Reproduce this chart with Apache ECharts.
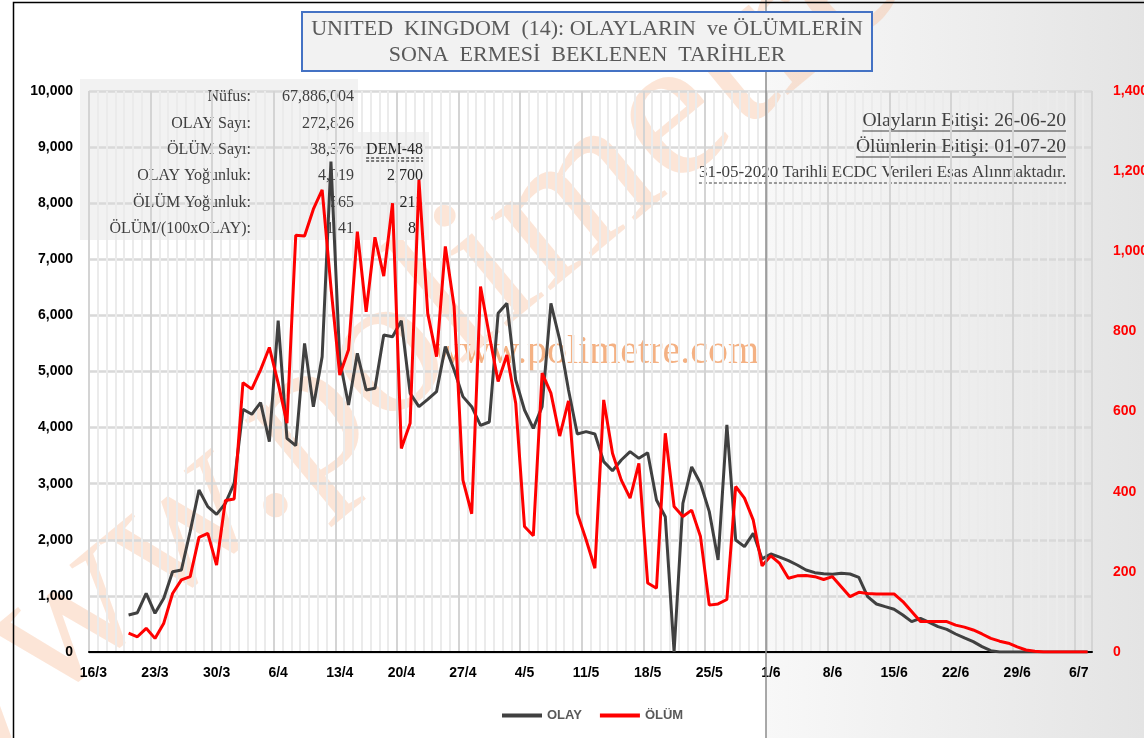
<!DOCTYPE html>
<html>
<head>
  <meta charset="utf-8">
  <title>United Kingdom (14)</title>
  <script src="https://cdn.jsdelivr.net/npm/echarts@6/dist/echarts.min.js"></script>
</head>
<body style="margin:0">
  <div id="main" style="width:1144px;height:738px;"></div>
  <script type="text/javascript">
    // days 16/3 .. 7/7 (one category per day)
    var monthDays = [[3, 16, 31], [4, 1, 30], [5, 1, 31], [6, 1, 30], [7, 1, 7]];
    var days = [];
    monthDays.forEach(function (m) {
      for (var d = m[1]; d <= m[2]; d++) days.push(d + '/' + m[0]);
    });

    // daily cases (left axis)
    var olay = [null, null, null, null,
      660, 701, 1046, 689, 957, 1432, 1462, 2150, 2888, 2591,
      2454, 2650, 3007, 4326, 4237, 4445, 3749, 5906, 3809, 3680,
      5502, 4373, 5265, 8741, 5205, 4403, 5324, 4670, 4700, 5651,
      5621, 5906, 4611, 4373, 4504, 4641, 5443, 5027, 4552, 4373,
      4040, 4100, 6037, 6215, 4849, 4314, 3987, 4373, 6215, 5562,
      4670, 3886, 3928, 3886, 3393, 3232, 3423, 3571, 3452, 3553,
      2710, 2412, 0, 2650, 3300, 3007, 2502, 1640, 4047, 1997,
      1878, 2115, 1660, 1747, 1690, 1628, 1551, 1462, 1414, 1396,
      1385, 1402, 1390, 1331, 986, 856, 808, 761, 660, 541,
      600, 529, 452, 404, 321, 250, 184, 95, 24, 0,
      0, 0, 0, 0, 0, 0, 0, 0, 0, 0];

    // daily deaths (right axis)
    var olum = [null, null, null, null,
      47, 38, 59, 34, 72, 146, 180, 188, 286, 296,
      217, 378, 382, 672, 656, 704, 760, 671, 571, 1040,
      1038, 1105, 1153, 910, 691, 754, 1049, 849, 1035, 938,
      1120, 508, 571, 1178, 845, 737, 1012, 862, 429, 345,
      912, 790, 675, 741, 621, 313, 290, 696, 646, 539,
      627, 346, 280, 209, 629, 496, 429, 384, 471, 172,
      159, 546, 363, 338, 354, 288, 117, 120, 131, 413,
      384, 329, 215, 240, 221, 184, 190, 191, 188, 181,
      188, 163, 138, 149, 146, 145, 145, 145, 126, 101,
      76, 76, 76, 76, 67, 62, 55, 45, 34, 27,
      22, 13, 5, 2, 0, 0, 0, 0, 0, 0];

    var forecastStart = '1/6';

    var titleLines = ['UNITED  KINGDOM  (14): OLAYLARIN  ve ÖLÜMLERİN', 'SONA  ERMESİ  BEKLENEN  TARİHLER'];
    var tableLabels = ['Nüfus:', 'OLAY Sayı:', 'ÖLÜM Sayı:', 'OLAY Yoğunluk:', 'ÖLÜM Yoğunluk:', 'ÖLÜM/(100xOLAY):'];
    var tableValues = ['67,886,004', '272,826', '38,376', '4,019', '565', '1.41'];
    var tableRef = ['', '', 'DEM-48', '2,700', '211', '8'];
    var notes = ['Olayların Bitişi: 26-06-20', 'Ölümlerin Bitişi: 01-07-20', '31-05-2020 Tarihli ECDC Verileri Esas Alınmaktadır.'];

    var fmt = function (v) { return Number(v).toLocaleString('en-US'); };
    var boldLbl = { fontFamily: 'Liberation Sans', fontWeight: 'bold', fontSize: 14 };

    var myChart = echarts.init(document.getElementById('main'));

    myChart.setOption({
      animation: false,
      backgroundColor: '#fff',
      grid: { left: 89, right: 52, top: 91, bottom: 86, containLabel: false, outerBoundsMode: 'none' },
      legend: {
        left: 497, top: 704,
        icon: 'rect', itemWidth: 40, itemHeight: 4, itemGap: 18,
        textStyle: { fontFamily: 'Liberation Sans', fontWeight: 'bold', fontSize: 13, color: '#595959' },
        data: ['OLAY', 'ÖLÜM']
      },
      xAxis: [{
        type: 'category', data: days, boundaryGap: true, z: 2,
        axisLine: { lineStyle: { color: '#000', width: 2 } },
        axisTick: { interval: 6, length: 6, lineStyle: { color: '#000', width: 2 } },
        axisLabel: Object.assign({ interval: 6, color: '#000', margin: 14 }, boldLbl),
        splitLine: { show: true, interval: 6, lineStyle: { color: '#d4d4d4', width: 2 } }
      }, {
        type: 'category', data: days, boundaryGap: true, position: 'top', z: 1,
        axisLine: { show: false }, axisTick: { show: false }, axisLabel: { show: false },
        splitLine: { show: true, interval: 0, lineStyle: { color: '#ebebeb', width: 2 } }
      }],
      yAxis: [{
        type: 'value', min: 0, max: 10000, interval: 1000,
        axisLine: { show: false }, axisTick: { show: false },
        axisLabel: Object.assign({ color: '#000', margin: 16, formatter: fmt }, boldLbl),
        splitLine: { lineStyle: { color: '#d9d9d9', width: 2.5 } }
      }, {
        type: 'value', min: 0, max: 1400, interval: 200, position: 'right',
        axisLine: { show: false }, axisTick: { show: false },
        axisLabel: Object.assign({ color: '#ff0000', margin: 21, formatter: fmt }, boldLbl),
        splitLine: { show: false }
      }],
      series: [{
        name: 'OLAY', type: 'line', data: olay, yAxisIndex: 0,
        symbol: 'none', color: '#404040',
        lineStyle: { color: '#404040', width: 3 }
      }, {
        name: 'ÖLÜM', type: 'line', data: olum, yAxisIndex: 1,
        symbol: 'none', color: '#ff0000',
        lineStyle: { color: '#ff0000', width: 3 }
      }]
    });

    // text measuring for underlines
    var ctx = document.createElement('canvas').getContext('2d');
    function textW(s, font) { ctx.font = font; return ctx.measureText(s).width; }

    var c1 = myChart.convertToPixel({ xAxisIndex: 0 }, forecastStart);
    var c2 = myChart.convertToPixel({ xAxisIndex: 0 }, days[days.indexOf(forecastStart) + 1]);
    var splitX = Math.round(c1 - (c2 - c1) / 2);

    var serif = 'Liberation Serif';
    var g = [];
    // forecast area
    g.push({
      type: 'rect', z: -10, silent: true,
      shape: { x: splitX, y: 0, width: 1144 - splitX, height: 738 },
      style: {
        fill: new echarts.graphic.LinearGradient(0, 0, 1, 0, [
          { offset: 0, color: '#f8f8f8' }, { offset: 1, color: '#e4e4e4' }])
      }
    });
    // big diagonal watermark
    g.push({
      type: 'text', z: -9, silent: true, x: -40, y: 840, rotation: 39.5 * Math.PI / 180,
      style: { x: 0, y: 0, text: 'www.polimetre.com', fill: 'rgba(247,190,155,0.4)',
        font: '205px "Liberation Serif"', textAlign: 'left', textVerticalAlign: 'bottom' }
    });
    g.push({
      type: 'line', z: 5, silent: true,
      shape: { x1: splitX, y1: 0, x2: splitX, y2: 738 },
      style: { stroke: '#8c8c8c', lineWidth: 1.5 }
    });
    // frame
    g.push({
      type: 'rect', z: 5, silent: true,
      shape: { x: 13.5, y: 2.5, width: 1200, height: 800 },
      style: { fill: 'none', stroke: '#000', lineWidth: 1.5 }
    });
    // title box
    g.push({
      type: 'rect', z: 6, shape: { x: 302, y: 12, width: 570, height: 59 },
      style: { fill: '#f2f2f2', stroke: '#4472c4', lineWidth: 2 }
    });
    titleLines.forEach(function (t, i) {
      g.push({
        type: 'text', z: 7, x: 587, y: 29 + i * 26,
        style: { text: t, fill: '#595959', font: '22px "' + serif + '"', textAlign: 'center', textVerticalAlign: 'middle' }
      });
    });
    // stats table
    g.push({ type: 'rect', z: -5, shape: { x: 80, y: 79, width: 278, height: 161 }, style: { fill: '#f2f2f2' } });
    g.push({ type: 'rect', z: -5, shape: { x: 358, y: 132, width: 71, height: 108 }, style: { fill: '#f2f2f2' } });
    var tFont = '16px "' + serif + '"';
    tableLabels.forEach(function (t, i) {
      var y = 97 + i * 26.4;
      g.push({ type: 'text', z: 1, x: 251, y: y, style: { text: t, fill: '#404040', font: tFont, textAlign: 'right', textVerticalAlign: 'middle' } });
      g.push({ type: 'text', z: 1, x: 354, y: y, style: { text: tableValues[i], fill: '#404040', font: tFont, textAlign: 'right', textVerticalAlign: 'middle' } });
      if (tableRef[i]) {
        var rx = tableRef[i] === '8' ? 416 : 423;
        g.push({ type: 'text', z: 1, x: rx, y: y, style: { text: tableRef[i], fill: '#262626', font: tFont, textAlign: 'right', textVerticalAlign: 'middle' } });
      }
    });
    var dw = textW(tableRef[2], tFont);
    [158, 161].forEach(function (yy) {
      g.push({ type: 'line', z: 1, shape: { x1: 423 - dw, y1: yy, x2: 423, y2: yy }, style: { stroke: '#000', lineWidth: 1, lineDash: [3, 2] } });
    });
    // central watermark
    g.push({
      type: 'text', z: -4, silent: true, x: 596, y: 352,
      style: { text: 'www.polimetre.com', fill: '#f4b183', font: '40px "' + serif + '"', textAlign: 'center', textVerticalAlign: 'middle' }
    });
    // notes
    notes.forEach(function (t, i) {
      var f = (i < 2 ? '19.6px "' : '17px "') + serif + '"';
      var y = 121 + i * 26;
      g.push({ type: 'text', z: 1, x: 1066, y: y, style: { text: t, fill: '#404040', font: f, textAlign: 'right', textVerticalAlign: 'middle' } });
      var w = textW(t, f);
      g.push({
        type: 'line', z: 1, shape: { x1: 1066 - w, y1: y + 10, x2: 1066, y2: y + 10 },
        style: { stroke: '#404040', lineWidth: 1, lineDash: i === 2 ? [3, 2] : null }
      });
    });

    myChart.setOption({ graphic: g });
  </script>
</body>
</html>
